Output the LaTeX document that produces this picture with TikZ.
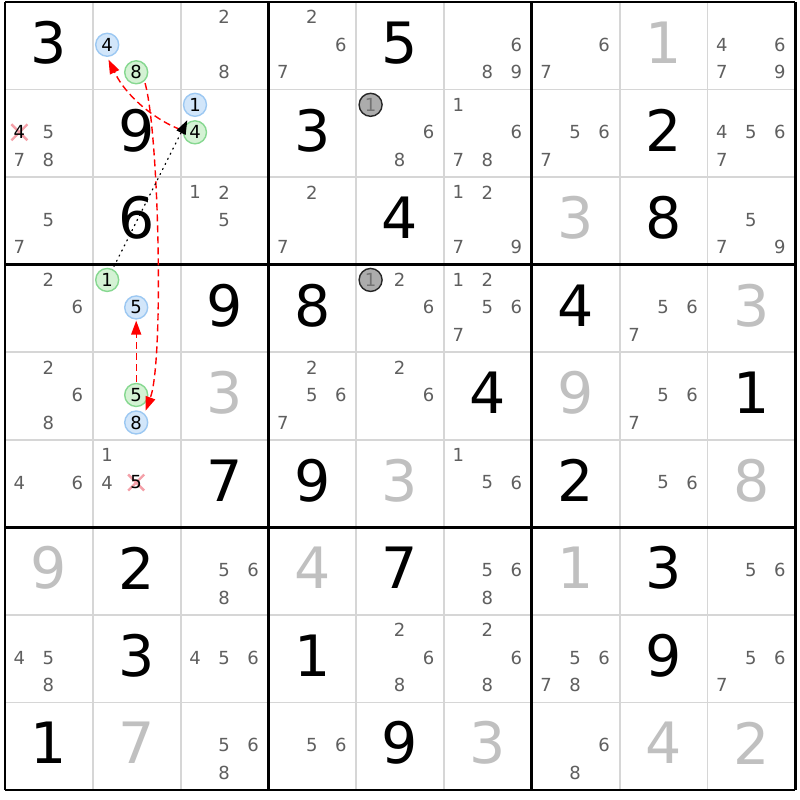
\documentclass[tikz,border=0pt]{standalone}
\usepackage{fontspec}
\setmainfont{DejaVu Sans}
\usetikzlibrary{arrows.meta}
\definecolor{candgray}{HTML}{5F5F5F}
\definecolor{solvedgray}{HTML}{C0C0C0}
\definecolor{thingrid}{HTML}{D6D6D6}
\definecolor{bluefill}{HTML}{D2E6FA}
\definecolor{blueline}{HTML}{9CC8F2}
\definecolor{greenfill}{HTML}{D4F2D4}
\definecolor{greenline}{HTML}{86D890}
\definecolor{grayfill}{HTML}{ACACAC}
\definecolor{linkred}{HTML}{FF0000}
\definecolor{xpink}{HTML}{F4A0A8}
\pgfmathdeclarefunction{cx}{1}{\pgfmathparse{5+(#1-0.5)*87.8}}
\pgfmathdeclarefunction{cy}{1}{\pgfmathparse{2+(#1-0.5)*87.55}}
\pgfmathdeclarefunction{candx}{2}{\pgfmathparse{5+(#1-0.5)*87.8+(mod(#2-1,3)-1)*29-0.5}}
\pgfmathdeclarefunction{candy}{2}{\pgfmathparse{2+(#1-0.5)*87.55+(floor((#2-1)/3)-1)*27.5-1}}
\tikzset{
  given/.style={inner sep=0pt, text=black, font=\fontsize{57}{57}\selectfont},
  solved/.style={given, text=solvedgray},
  cand/.style={inner sep=0pt, text=candgray, font=\fontsize{18}{18}\selectfont},
  hl/.style={circle, inner sep=0pt, minimum size=23pt, line width=1.4pt, text=black, font=\fontsize{18}{18}\selectfont},
  bluec/.style={hl, fill=bluefill, draw=blueline},
  greenc/.style={hl, fill=greenfill, draw=greenline},
  grayc/.style={hl, fill=grayfill, draw=black!85, text=black!55},
  elim/.style={cand, text=black},
  xmark/.style={draw=xpink, line width=2.4pt},
  thinline/.style={draw=thingrid, line width=1.8pt},
  thickline/.style={draw=black, line width=2.8pt},
  redlink/.style={draw=linkred, line width=1.4pt, dash pattern=on 7pt off 4pt, -{Triangle[length=14pt,width=10pt]}},
  weaklink/.style={draw=black, line width=1.2pt, dash pattern=on 1.2pt off 4.5pt, line cap=round, -{Triangle[length=14pt,width=10pt]}},
}
\newcommand\giv[3]{\node[given] (g#1#2) at ({cx(#2)},{cy(#1)-3}) {#3};}
\newcommand\sol[3]{\node[solved] (s#1#2) at ({cx(#2)},{cy(#1)-3}) {#3};}
\newcommand\cands[3]{\foreach \d in {#3}{\node[cand] (k#1#2\d) at ({candx(#2,\d)},{candy(#1,\d)}) {\d};}}
\newcommand\hlcand[5]{\node[#1] (#2) at ({candx(#4,#5)},{candy(#3,#5)}) {#5};}
\newcommand\elimcand[3]{\coordinate (x#1#2#3) at ({candx(#2,#3)},{candy(#1,#3)});
  \draw[xmark] ([shift={(-8,-8)}]x#1#2#3) -- ([shift={(8,8)}]x#1#2#3);
  \draw[xmark] ([shift={(-8,8)}]x#1#2#3) -- ([shift={(8,-8)}]x#1#2#3);
  \node[elim] (e#1#2#3) at (x#1#2#3) {#3};}
\begin{document}
\begin{tikzpicture}[x=1pt,y=-1pt]
\useasboundingbox (0,0) rectangle (800,800);
\fill[white] (0,0) rectangle (800,800);
% thin grid
\foreach \i in {1,2,4,5,7,8}{
  \draw[thinline] ({5+\i*87.8},2) -- ({5+\i*87.8},790);
  \draw[thinline] (5,{2+\i*87.55}) -- (795,{2+\i*87.55});
}
% row 1
\giv{1}{1}{3} \cands{1}{3}{2,8} \cands{1}{4}{2,6,7} \giv{1}{5}{5} \cands{1}{6}{6,8,9}
\cands{1}{7}{6,7} \sol{1}{8}{1} \cands{1}{9}{4,6,7,9}
% row 2
\cands{2}{1}{5,7,8} \elimcand{2}{1}{4} \giv{2}{2}{9} \giv{2}{4}{3} \cands{2}{5}{6,8}
\cands{2}{6}{1,6,7,8} \cands{2}{7}{5,6,7} \giv{2}{8}{2} \cands{2}{9}{4,5,6,7}
% row 3
\cands{3}{1}{5,7} \giv{3}{2}{6} \cands{3}{3}{1,2,5} \cands{3}{4}{2,7} \giv{3}{5}{4}
\cands{3}{6}{1,2,7,9} \sol{3}{7}{3} \giv{3}{8}{8} \cands{3}{9}{5,7,9}
% row 4
\cands{4}{1}{2,6} \giv{4}{3}{9} \giv{4}{4}{8} \cands{4}{5}{2,6} \cands{4}{6}{1,2,5,6,7}
\giv{4}{7}{4} \cands{4}{8}{5,6,7} \sol{4}{9}{3}
% row 5
\cands{5}{1}{2,6,8} \sol{5}{3}{3} \cands{5}{4}{2,5,6,7} \cands{5}{5}{2,6} \giv{5}{6}{4}
\sol{5}{7}{9} \cands{5}{8}{5,6,7} \giv{5}{9}{1}
% row 6
\cands{6}{1}{4,6} \cands{6}{2}{1,4} \elimcand{6}{2}{5} \giv{6}{3}{7} \giv{6}{4}{9} \sol{6}{5}{3}
\cands{6}{6}{1,5,6} \giv{6}{7}{2} \cands{6}{8}{5,6} \sol{6}{9}{8}
% row 7
\sol{7}{1}{9} \giv{7}{2}{2} \cands{7}{3}{5,6,8} \sol{7}{4}{4} \giv{7}{5}{7} \cands{7}{6}{5,6,8}
\sol{7}{7}{1} \giv{7}{8}{3} \cands{7}{9}{5,6}
% row 8
\cands{8}{1}{4,5,8} \giv{8}{2}{3} \cands{8}{3}{4,5,6} \giv{8}{4}{1} \cands{8}{5}{2,6,8}
\cands{8}{6}{2,6,8} \cands{8}{7}{5,6,7,8} \giv{8}{8}{9} \cands{8}{9}{5,6,7}
% row 9
\giv{9}{1}{1} \sol{9}{2}{7} \cands{9}{3}{5,6,8} \cands{9}{4}{5,6} \giv{9}{5}{9} \sol{9}{6}{3}
\cands{9}{7}{6,8} \sol{9}{8}{4} \sol{9}{9}{2}
% highlighted candidates
\hlcand{bluec}{bA}{1}{2}{4}
\hlcand{greenc}{gA}{1}{2}{8}
\hlcand{bluec}{bB}{2}{3}{1}
\hlcand{greenc}{gB}{2}{3}{4}
\hlcand{greenc}{gC}{4}{2}{1}
\hlcand{bluec}{bC}{4}{2}{5}
\hlcand{greenc}{gD}{5}{2}{5}
\hlcand{bluec}{bD}{5}{2}{8}
\hlcand{grayc}{xA}{2}{5}{1}
\hlcand{grayc}{xB}{4}{5}{1}
% thick grid
\foreach \i in {0,3,6,9}{
  \draw[thickline] ({5+\i*87.8},2) -- ({5+\i*87.8},790);
  \draw[thickline] (5,{2+\i*87.55}) -- (795,{2+\i*87.55});
}
% links
\draw[redlink, shorten <=2pt, shorten >=3pt] (gA.-47) .. controls (159,133) and (164,361) .. (bD.47);
\draw[redlink, shorten <=3pt, shorten >=3pt] (gB.171) .. controls (160,122) and (128,100) .. (bA.-90);
\draw[weaklink, shorten <=3pt, shorten >=5pt] (gC) -- (bB);
\draw[redlink, shorten <=1pt, shorten >=1pt] (gD) -- (bC);
\end{tikzpicture}
\end{document}
